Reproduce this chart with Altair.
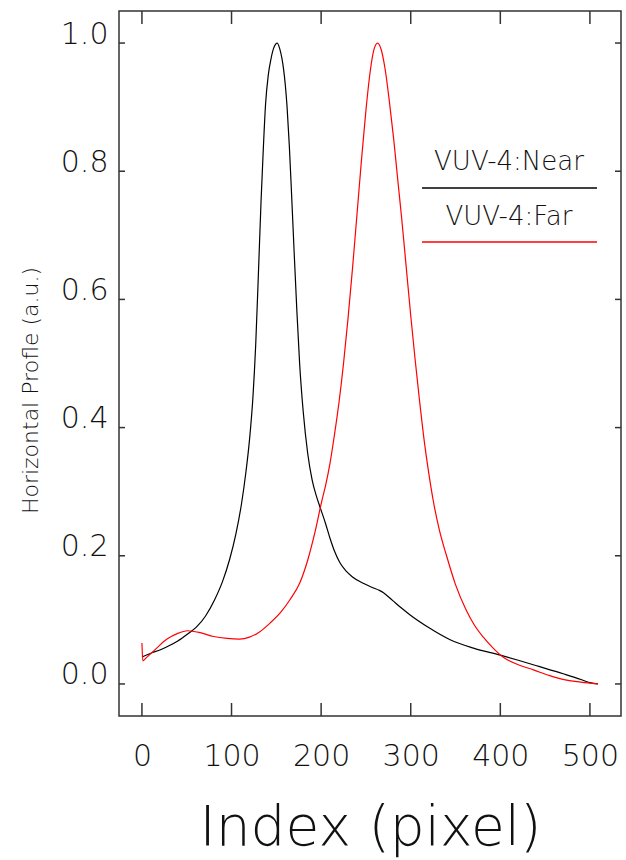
import altair as alt
import pandas as pd

# ---- data ----
near_idx = [0, 10, 20, 28, 40, 51, 61, 71, 81, 90, 98, 105, 111, 116, 120, 124, 127, 130, 133, 135,
            138, 141, 144, 147, 151, 154, 158, 160, 162, 164.5, 167, 170, 173, 176, 180, 185, 190,
            195, 199, 205, 210, 215, 221, 228, 235, 247, 258, 265, 270, 280, 290, 299, 320, 344, 370,
            400, 420, 444, 470, 490, 500, 509]
near_val = [0.042, 0.048, 0.053, 0.058, 0.067, 0.078, 0.089, 0.106, 0.131, 0.160, 0.195, 0.235, 0.28,
            0.33, 0.38, 0.45, 0.53, 0.64, 0.755, 0.82, 0.905, 0.95, 0.975, 0.992, 1.0, 0.99, 0.96,
            0.935, 0.90, 0.84, 0.765, 0.67, 0.58, 0.50, 0.425, 0.36, 0.318, 0.292, 0.275, 0.25,
            0.227, 0.207, 0.189, 0.176, 0.167, 0.157, 0.150, 0.146, 0.142, 0.130, 0.118, 0.108,
            0.088, 0.069, 0.056, 0.045, 0.037, 0.027, 0.016, 0.007, 0.002, 0.0]

far_idx = [0, 1, 5, 15, 28, 40, 51, 65, 80, 95, 109, 120, 130, 143, 155, 165, 176, 185, 193, 201,
           205, 210, 215, 220, 225, 230, 235, 240, 245, 250, 255, 259, 263, 267, 271, 276, 281, 286,
           290, 295, 300, 305, 310, 315, 320, 325, 332, 340, 350, 362, 371, 381, 392, 403, 420, 437,
           455, 474, 490, 509]
far_val = [0.064, 0.036, 0.041, 0.054, 0.070, 0.079, 0.083, 0.080, 0.074, 0.071, 0.070, 0.073, 0.080,
           0.095, 0.112, 0.131, 0.157, 0.193, 0.236, 0.287, 0.31, 0.345, 0.39, 0.44, 0.50, 0.57,
           0.648, 0.732, 0.817, 0.895, 0.958, 0.99, 1.0, 0.99, 0.963, 0.911, 0.85, 0.78, 0.725,
           0.65, 0.575, 0.505, 0.44, 0.38, 0.33, 0.287, 0.24, 0.20, 0.155, 0.115, 0.092, 0.073,
           0.056, 0.042, 0.030, 0.022, 0.013, 0.006, 0.003, 0.0]

series_names = ["VUV-4:Near", "VUV-4:Far"]
series_colors = ["#000000", "#ff0000"]
x_ticks = [0, 100, 200, 300, 400, 500]
y_ticks = [0.0, 0.2, 0.4, 0.6, 0.8, 1.0]
x_title = "Index (pixel)"
y_title = "Horizontal Profle (a.u.)"

df = pd.concat([
    pd.DataFrame({"index": near_idx, "value": near_val, "series": series_names[0]}),
    pd.DataFrame({"index": far_idx, "value": far_val, "series": series_names[1]}),
])

W, H = 502, 705
FONT = "DejaVu Sans"
TXT = "#111111"
FRAME = "#333333"

xs = alt.Scale(domain=[-25.6, 534.7], nice=False, zero=False)
ys = alt.Scale(domain=[-0.05, 1.05], nice=False, zero=False)

x_axis = alt.Axis(values=x_ticks, ticks=False, tickSize=0, domain=False, grid=False,
                  labelFont=FONT, labelFontSize=30, labelFontWeight=200, labelColor=TXT,
                  labelBaseline="alphabetic", labelPadding=49, format="d",
                  title=x_title, titleFont=FONT, titleFontSize=55, titleFontWeight=200,
                  titleColor=TXT, titleBaseline="alphabetic", titleY=128)
y_axis = alt.Axis(values=y_ticks, ticks=False, tickSize=0, domain=False, grid=False,
                  labelFont=FONT, labelFontSize=30, labelFontWeight=200, labelColor=TXT,
                  labelBaseline="alphabetic", labelAlign="right", labelPadding=11, format=".1f",
                  title=y_title, titleFont=FONT, titleFontSize=22, titleFontWeight=200,
                  titleColor=TXT, titleBaseline="alphabetic", titleAngle=270,
                  titleX=-82, titleY=379)

lines = alt.Chart(df).mark_line(strokeWidth=1.2, interpolate="monotone", clip=True).encode(
    x=alt.X("index:Q", scale=xs, axis=x_axis),
    y=alt.Y("value:Q", scale=ys, axis=y_axis),
    color=alt.Color("series:N", scale=alt.Scale(domain=series_names, range=series_colors),
                    legend=None),
)

xt = pd.DataFrame({"index": x_ticks})
yt = pd.DataFrame({"value": y_ticks})
tick_style = dict(color=FRAME, strokeWidth=1.5)

bottom_ticks = alt.Chart(xt).mark_rule(**tick_style).encode(
    x=alt.X("index:Q", scale=xs), y=alt.value(H), y2=alt.value(H - 13))
top_ticks = alt.Chart(xt).mark_rule(**tick_style).encode(
    x=alt.X("index:Q", scale=xs), y=alt.value(0), y2=alt.value(13))
left_ticks = alt.Chart(yt).mark_rule(**tick_style).encode(
    y=alt.Y("value:Q", scale=ys), x=alt.value(0), x2=alt.value(6))
right_ticks = alt.Chart(yt).mark_rule(**tick_style).encode(
    y=alt.Y("value:Q", scale=ys), x=alt.value(W), x2=alt.value(W - 6))

# legend (label above a line sample, as in the reference)
leg_text_y = [159, 214]
leg_line_y = [177, 231]
legend_layers = []
for name, col, ty, ly in zip(series_names, series_colors, leg_text_y, leg_line_y):
    d = pd.DataFrame({"label": [name]})
    legend_layers.append(
        alt.Chart(d).mark_text(font=FONT, fontSize=26, fontWeight=200, color=TXT,
                               align="center", baseline="alphabetic").encode(
            text="label:N", x=alt.value(390), y=alt.value(ty)))
    legend_layers.append(
        alt.Chart(d).mark_rule(color=col, strokeWidth=1.3).encode(
            x=alt.value(303), x2=alt.value(478), y=alt.value(ly)))

chart = alt.layer(lines, bottom_ticks, top_ticks, left_ticks, right_ticks, *legend_layers).properties(
    width=W, height=H,
    padding={"left": 119, "top": 11, "right": 5, "bottom": 144},
    autosize=alt.AutoSizeParams(type="none"),
    background="white",
).configure_view(stroke=FRAME, strokeWidth=1.5)

chart.save("out.html", embed_options={"renderer": "svg", "actions": False})
